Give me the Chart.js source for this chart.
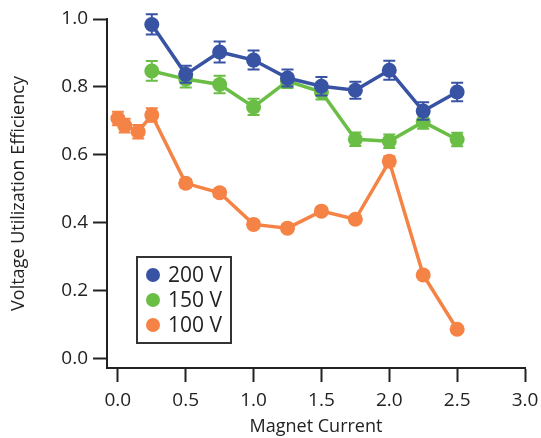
<!DOCTYPE html>
<html>
<head>
<meta charset="utf-8">
<script src="https://cdn.jsdelivr.net/npm/chart.js@4/dist/chart.umd.min.js"></script>
<style>
html,body{margin:0;padding:0;background:#fff;}
#wrap{width:541px;height:438px;position:relative;}
</style>
</head>
<body>
<div id="wrap"><canvas id="c" width="541" height="438"></canvas></div>
<script>
const xTicks = [0.0, 0.5, 1.0, 1.5, 2.0, 2.5, 3.0];
const yTicks = [0.0, 0.2, 0.4, 0.6, 0.8, 1.0];

const x200 = [0.25, 0.5, 0.75, 1.0, 1.25, 1.5, 1.75, 2.0, 2.25, 2.5];
const y200 = [0.984, 0.837, 0.903, 0.879, 0.826, 0.802, 0.790, 0.849, 0.729, 0.785];
const e200 = [0.03, 0.025, 0.031, 0.028, 0.025, 0.027, 0.025, 0.028, 0.026, 0.027];

const x150 = [0.25, 0.5, 0.75, 1.0, 1.25, 1.5, 1.75, 2.0, 2.25, 2.5];
const y150 = [0.847, 0.823, 0.807, 0.741, 0.817, 0.785, 0.646, 0.640, 0.697, 0.645];
const e150 = [0.029, 0.025, 0.026, 0.024, 0.02, 0.022, 0.02, 0.02, 0.02, 0.02];

const x100 = [0.0, 0.05, 0.15, 0.25, 0.5, 0.75, 1.0, 1.25, 1.5, 1.75, 2.0, 2.25, 2.5];
const y100 = [0.707, 0.686, 0.668, 0.717, 0.516, 0.488, 0.395, 0.384, 0.434, 0.410, 0.581, 0.246, 0.086];
const e100 = [0.02, 0.02, 0.02, 0.02, 0.012, 0.012, 0.01, 0.01, 0.01, 0.01, 0.015, 0.01, 0.01];

const labels = ['200 V', '150 V', '100 V'];
const colors = ['#3953a4', '#6abd45', '#f58345'];

const FONT = '"Open Sans", Lato, sans-serif';

function pts(xs, ys){ return xs.map((x,i)=>({x:x, y:ys[i]})); }

const errs = [e200, e150, e100];

const errorBarPlugin = {
  id: 'errbars',
  beforeDatasetDraw(chart, args){
    const i = args.index;
    const ds = chart.data.datasets[i];
    const xs = chart.scales.x, ys = chart.scales.y;
    const ctx = chart.ctx;
    ctx.save();
    ctx.strokeStyle = ds.borderColor;
    ctx.lineWidth = 2;
    ds.data.forEach((p, k) => {
      const e = errs[i][k];
      const px = xs.getPixelForValue(p.x);
      const pt = ys.getPixelForValue(p.y + e);
      const pb = ys.getPixelForValue(p.y - e);
      ctx.beginPath();
      ctx.moveTo(px, pt); ctx.lineTo(px, pb);
      ctx.moveTo(px-6, pt); ctx.lineTo(px+6, pt);
      ctx.moveTo(px-6, pb); ctx.lineTo(px+6, pb);
      ctx.stroke();
    });
    ctx.restore();
  }
};

const legendPlugin = {
  id: 'boxlegend',
  afterDraw(chart){
    const ctx = chart.ctx;
    const left = 137, top = 257, w = 94, h = 86;
    ctx.save();
    ctx.fillStyle = '#fff';
    ctx.fillRect(left, top, w, h);
    ctx.strokeStyle = '#333';
    ctx.lineWidth = 2;
    ctx.strokeRect(left, top, w, h);
    ctx.font = '21px ' + FONT;
    ctx.textBaseline = 'middle';
    chart.data.datasets.forEach((ds, i) => {
      const cy = top + 18 + i * 25;
      ctx.fillStyle = ds.backgroundColor;
      ctx.beginPath();
      ctx.arc(left + 16, cy, 7, 0, Math.PI * 2);
      ctx.fill();
      ctx.fillStyle = '#222';
      ctx.fillText(ds.label, left + 31, cy + 1);
    });
    ctx.restore();
  }
};

new Chart(document.getElementById('c'), {
  type: 'scatter',
  data: {
    datasets: [
      {label: labels[0], data: pts(x200, y200), borderColor: colors[0], backgroundColor: colors[0]},
      {label: labels[1], data: pts(x150, y150), borderColor: colors[1], backgroundColor: colors[1]},
      {label: labels[2], data: pts(x100, y100), borderColor: colors[2], backgroundColor: colors[2]}
    ].map(d => Object.assign(d, {showLine: true, borderWidth: 3.5, pointRadius: 7.5, pointHoverRadius: 7.5, pointBorderWidth: 0, clip: false}))
  },
  options: {
    responsive: false,
    animation: false,
    events: [],
    layout: {padding: {left: 0, right: 0, top: 19, bottom: 0}},
    plugins: {legend: {display: false}, tooltip: {enabled: false}},
    scales: {
      x: {
        type: 'linear', min: -0.08, max: 3.0,
        afterBuildTicks: s => { s.ticks = xTicks.map(v => ({value: v})); },
        afterFit: s => { s.height = 70; s.paddingRight = 16; s.paddingLeft = 0; },
        grid: {drawOnChartArea: false, drawTicks: true, tickLength: 14, tickColor: '#222', tickWidth: 2},
        border: {display: true, color: '#222', width: 2},
        ticks: {color: '#222', font: {family: FONT, size: 19}, padding: 7, maxRotation: 0,
                callback: v => v.toFixed(1)},
        title: {display: true, text: 'Magnet Current', color: '#222', font: {family: FONT, size: 18}, padding: {top: 0, bottom: 0}}
      },
      y: {
        type: 'linear', min: -0.028, max: 1.0,
        afterBuildTicks: s => { s.ticks = yTicks.map(v => ({value: v})); },
        afterFit: s => { s.width = 107; s.paddingTop = 0; },
        grid: {drawOnChartArea: false, drawTicks: true, tickLength: 14, tickColor: '#222', tickWidth: 2},
        border: {display: true, color: '#222', width: 2},
        ticks: {color: '#222', font: {family: FONT, size: 19}, padding: 5,
                callback: v => v.toFixed(1)},
        title: {display: true, text: 'Voltage Utilization Efficiency', color: '#222', font: {family: FONT, size: 18}, padding: {top: 8, bottom: 0}}
      }
    }
  },
  plugins: [errorBarPlugin, legendPlugin]
});
</script>
</body>
</html>
